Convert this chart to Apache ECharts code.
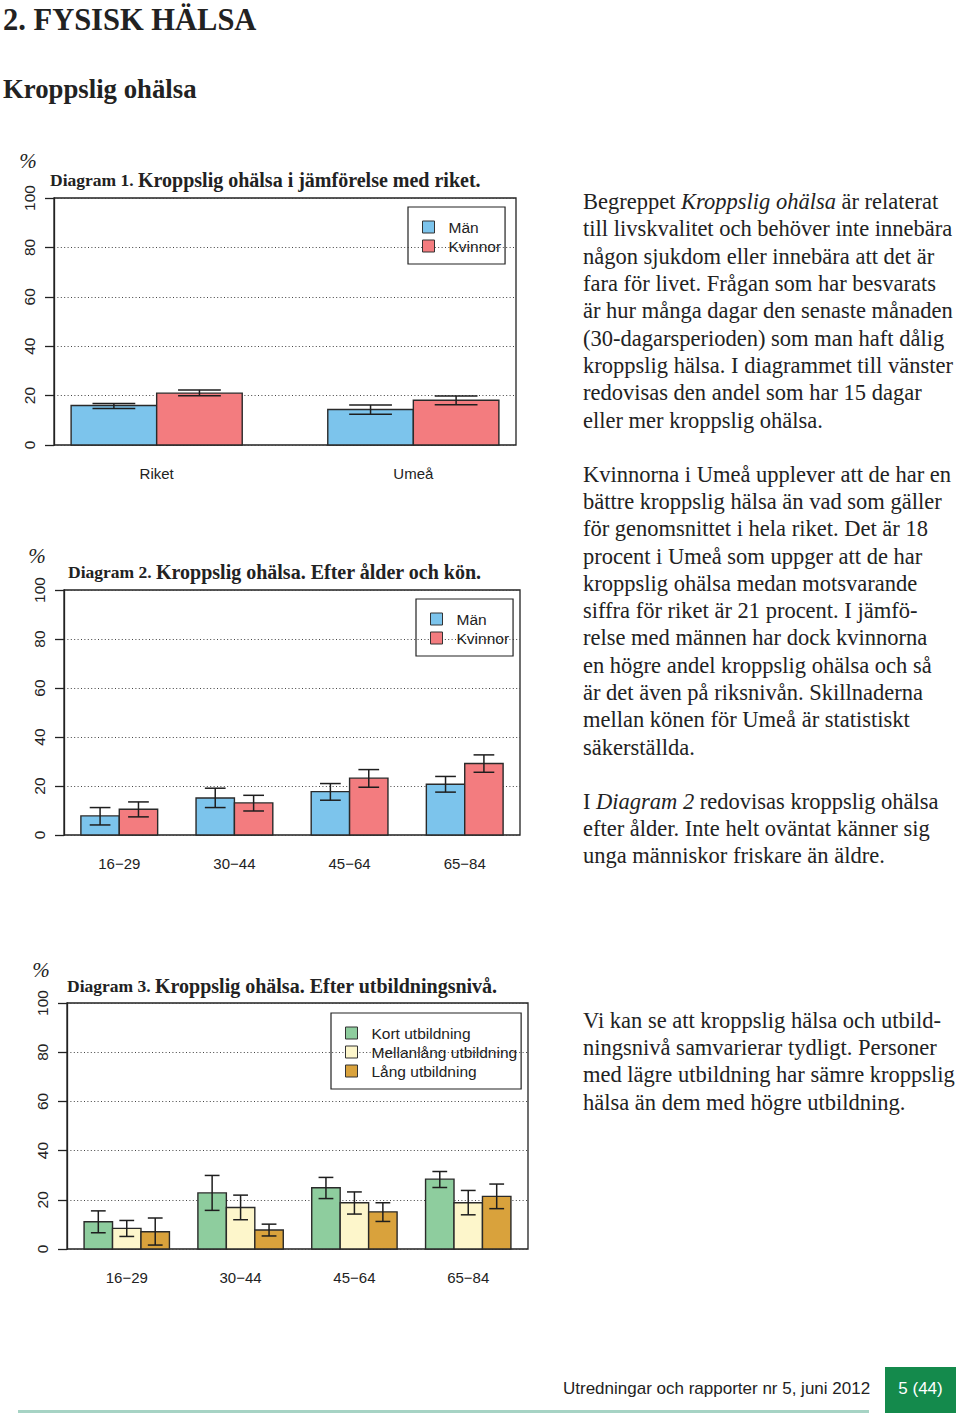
<!DOCTYPE html>
<html><head><meta charset="utf-8">
<script src="https://cdn.jsdelivr.net/npm/echarts@6/dist/echarts.min.js"></script>
<style>html,body{margin:0;padding:0;background:#fff}#c{width:960px;height:1415px}</style>
</head><body><div id="c"></div>
<script>
// ---------- Data ----------
// Diagram 1
const cat1 = ['Riket', 'Umeå'];
const d1Man = [16.0, 14.4];
const d1ManLo = [14.8, 12.5];
const d1ManHi = [16.8, 16.2];
const d1Kv = [21.0, 18.1];
const d1KvLo = [19.9, 16.3];
const d1KvHi = [22.3, 19.8];
// Diagram 2
const cat2 = ['16\u221229', '30\u221244', '45\u221264', '65\u221284'];
const d2Man = [7.8, 15.1, 17.7, 20.7];
const d2ManLo = [4.1, 11.2, 14.2, 17.5];
const d2ManHi = [11.2, 19.1, 21.0, 23.9];
const d2Kv = [10.5, 13.1, 23.2, 29.2];
const d2KvLo = [7.4, 9.8, 19.5, 25.6];
const d2KvHi = [13.5, 16.2, 26.7, 32.7];
// Diagram 3
const cat3 = ['16\u221229', '30\u221244', '45\u221264', '65\u221284'];
const d3Kort = [11.1, 22.8, 24.9, 28.4];
const d3KortLo = [6.6, 15.7, 20.5, 25.0];
const d3KortHi = [15.5, 29.9, 29.1, 31.5];
const d3Mellan = [8.4, 16.9, 18.8, 18.8];
const d3MellanLo = [5.1, 11.9, 14.2, 13.9];
const d3MellanHi = [11.6, 21.9, 23.2, 23.8];
const d3Lang = [7.0, 7.7, 15.1, 21.4];
const d3LangLo = [1.6, 5.3, 11.2, 16.4];
const d3LangHi = [12.6, 10.1, 18.8, 26.4];
const yTicks = [0, 20, 40, 60, 80, 100];

// ---------- Styles ----------
const SANS = 'Liberation Sans, Arial, sans-serif';
const SERIF = 'Liberation Serif, Times New Roman, serif';
const INK = '#222';
const colMan = '#7cc4ec', colKv = '#f37c7f';
const colKort = '#8ecd9e', colMellan = '#fdf6cb', colLang = '#d9a23c';

// R barplot(beside=TRUE, space=c(0,1)) layout helpers
function barCenter(g, s, k) { return g * (k + 1) + 1 + s + 0.5; }
function groupCenter(g, k) { return g * (k + 1) + 1 + k / 2; }
function xlim(n, k) { const lo = 1, hi = n * (k + 1), e = 0.04 * (hi - lo); return [lo - e, hi + e]; }

const grids = [
  {left: 54, top: 198, width: 462, height: 247},
  {left: 64, top: 590, width: 456, height: 245},
  {left: 67, top: 1003, width: 461, height: 246}
];
const charts = [
  {cats: cat1, k: 2, cap: 0.25, series: [
    {name: 'Män', color: colMan, v: d1Man, lo: d1ManLo, hi: d1ManHi},
    {name: 'Kvinnor', color: colKv, v: d1Kv, lo: d1KvLo, hi: d1KvHi}]},
  {cats: cat2, k: 2, cap: 0.27, series: [
    {name: 'Män', color: colMan, v: d2Man, lo: d2ManLo, hi: d2ManHi},
    {name: 'Kvinnor', color: colKv, v: d2Kv, lo: d2KvLo, hi: d2KvHi}]},
  {cats: cat3, k: 3, cap: 0.26, series: [
    {name: 'Kort utbildning', color: colKort, v: d3Kort, lo: d3KortLo, hi: d3KortHi},
    {name: 'Mellanlång utbildning', color: colMellan, v: d3Mellan, lo: d3MellanLo, hi: d3MellanHi},
    {name: 'Lång utbildning', color: colLang, v: d3Lang, lo: d3LangLo, hi: d3LangHi}]}
];

function makeRender(capHalf) {
  return function (params, api) {
    const x = api.value(0), v = api.value(1), lo = api.value(2), hi = api.value(3);
    const a = api.coord([x - 0.5, 0]);
    const b = api.coord([x + 0.5, v]);
    const pl = api.coord([x, lo]);
    const ph = api.coord([x, hi]);
    const cw = api.size([capHalf, 0])[0];
    const es = {stroke: '#1e1e1e', lineWidth: 1.5};
    return {type: 'group', children: [
      {type: 'rect', shape: {x: a[0], y: b[1], width: b[0] - a[0], height: a[1] - b[1]},
        style: {fill: api.visual('color'), stroke: '#2a2a2a', lineWidth: 1.4}},
      {type: 'line', shape: {x1: pl[0], y1: pl[1], x2: ph[0], y2: ph[1]}, style: es},
      {type: 'line', shape: {x1: pl[0] - cw, y1: pl[1], x2: pl[0] + cw, y2: pl[1]}, style: es},
      {type: 'line', shape: {x1: ph[0] - cw, y1: ph[1], x2: ph[0] + cw, y2: ph[1]}, style: es}
    ]};
  };
}

const xAxes = [], yAxes = [], series = [];
charts.forEach((c, i) => {
  const lim = xlim(c.cats.length, c.k);
  xAxes.push({
    type: 'value', gridIndex: i, min: lim[0], max: lim[1],
    axisLine: {show: false}, axisTick: {show: false}, splitLine: {show: false},
    axisLabel: {
      customValues: c.cats.map((_, g) => groupCenter(g, c.k)),
      formatter: val => c.cats[Math.round((val - 1 - c.k / 2) / (c.k + 1))] || '',
      margin: 21, fontFamily: SANS, fontSize: 15, color: INK
    }
  });
  yAxes.push({
    type: 'value', gridIndex: i, min: yTicks[0], max: yTicks[yTicks.length - 1], interval: 20,
    axisLine: {show: true, lineStyle: {color: INK, width: 1.3}},
    axisTick: {show: true, length: 9, lineStyle: {color: INK, width: 1.3}},
    axisLabel: {rotate: 90, margin: 17, fontFamily: SANS, fontSize: 15.5, color: INK},
    splitLine: {show: true, lineStyle: {color: '#444', width: 1, type: [1, 2.4]}}
  });
  c.series.forEach((s, si) => {
    series.push({
      type: 'custom', name: s.name, xAxisIndex: i, yAxisIndex: i,
      itemStyle: {color: s.color},
      renderItem: makeRender(c.cap),
      encode: {x: 0, y: [1, 2, 3]},
      data: s.v.map((v, g) => [barCenter(g, si, c.k), v, s.lo[g], s.hi[g]]),
      silent: true
    });
  });
});

function legendAt(left, top, names) {
  return {
    left: left, top: top, orient: 'vertical', data: names, icon: 'rect',
    itemWidth: 12, itemHeight: 12, itemGap: 3, padding: [12, 4, 10, 14],
    borderColor: INK, borderWidth: 1.2, selectedMode: false,
    itemStyle: {borderColor: '#333', borderWidth: 1},
    textStyle: {fontFamily: SANS, fontSize: 15.5, color: INK, lineHeight: 16, padding: [0, 0, 0, 9]}
  };
}

function txt(x, y, text, st) {
  return {type: 'text', x: x, y: y, silent: true, style: Object.assign({text: text, fill: INK}, st)};
}
const bodyStyle = {
  fontFamily: SERIF, fontSize: 22.5, lineHeight: 27.3, verticalAlign: 'top', align: 'left',
  rich: {i: {fontFamily: SERIF, fontSize: 22.5, lineHeight: 27.3, fontStyle: 'italic', fill: INK}}
};
function titleStyle() {
  return {
    fontFamily: SERIF, fontSize: 20, verticalAlign: 'middle', align: 'left', lineHeight: 22,
    rich: {
      s: {fontFamily: SERIF, fontWeight: 'bold', fontSize: 17.5, fill: INK, lineHeight: 22},
      b: {fontFamily: SERIF, fontWeight: 'bold', fontSize: 20, fill: INK, lineHeight: 22}
    }
  };
}
const pctStyle = {fontFamily: SERIF, fontStyle: 'italic', fontSize: 21, align: 'center', verticalAlign: 'middle'};

const graphics = [
  txt(3, 20, '2. FYSISK HÄLSA', {fontFamily: SERIF, fontWeight: 'bold', fontSize: 30.5, verticalAlign: 'middle'}),
  txt(3, 89, 'Kroppslig ohälsa', {fontFamily: SERIF, fontWeight: 'bold', fontSize: 26.75, verticalAlign: 'middle'}),
  txt(50, 180, '{s|Diagram 1. }{b|Kroppslig ohälsa i jämförelse med riket.}', titleStyle()),
  txt(68, 572, '{s|Diagram 2. }{b|Kroppslig ohälsa. Efter ålder och kön.}', titleStyle()),
  txt(67, 986, '{s|Diagram 3. }{b|Kroppslig ohälsa. Efter utbildningsnivå.}', titleStyle()),
  txt(28, 161, '%', pctStyle),
  txt(37, 556, '%', pctStyle),
  txt(41, 970, '%', pctStyle),
  txt(583, 188, [
    'Begreppet {i|Kroppslig ohälsa} är relaterat',
    'till livskvalitet och behöver inte innebära',
    'någon sjukdom eller innebära att det är',
    'fara för livet. Frågan som har besvarats',
    'är hur många dagar den senaste månaden',
    '(30-dagarsperioden) som man haft dålig',
    'kroppslig hälsa. I diagrammet till vänster',
    'redovisas den andel som har 15 dagar',
    'eller mer kroppslig ohälsa.'].join('\n'), bodyStyle),
  txt(583, 460.5, [
    'Kvinnorna i Umeå upplever att de har en',
    'bättre kroppslig hälsa än vad som gäller',
    'för genomsnittet i hela riket. Det är 18',
    'procent i Umeå som uppger att de har',
    'kroppslig ohälsa medan motsvarande',
    'siffra för riket är 21 procent. I jämfö-',
    'relse med männen har dock kvinnorna',
    'en högre andel kroppslig ohälsa och så',
    'är det även på riksnivån. Skillnaderna',
    'mellan könen för Umeå är statistiskt',
    'säkerställda.'].join('\n'), bodyStyle),
  txt(583, 787.5, [
    'I {i|Diagram 2} redovisas kroppslig ohälsa',
    'efter ålder. Inte helt oväntat känner sig',
    'unga människor friskare än äldre.'].join('\n'), bodyStyle),
  txt(583, 1006.5, [
    'Vi kan se att kroppslig hälsa och utbild-',
    'ningsnivå samvarierar tydligt. Personer',
    'med lägre utbildning har sämre kroppslig',
    'hälsa än dem med högre utbildning.'].join('\n'), bodyStyle),
  {type: 'rect', silent: true, shape: {x: 18, y: 1410, width: 851, height: 3}, style: {fill: '#a6d3c4'}},
  txt(563, 1388, 'Utredningar och rapporter nr 5, juni 2012', {fontFamily: SANS, fontSize: 17, verticalAlign: 'middle'}),
  {type: 'rect', silent: true, shape: {x: 885, y: 1367, width: 71, height: 46}, style: {fill: '#148a4c'}},
  txt(920.5, 1388, '5 (44)', {fontFamily: SANS, fontSize: 17, fill: '#fff', align: 'center', verticalAlign: 'middle'})
];

const chart = echarts.init(document.getElementById('c'), null, {renderer: 'svg', width: 960, height: 1415});
chart.setOption({
  animation: false,
  backgroundColor: '#fff',
  grid: grids.map(g => Object.assign({show: true, borderColor: INK, borderWidth: 1.3, containLabel: false}, g)),
  xAxis: xAxes,
  yAxis: yAxes,
  legend: [
    legendAt(408, 207, ['Män', 'Kvinnor']),
    legendAt(416, 599, ['Män', 'Kvinnor']),
    legendAt(331, 1013, ['Kort utbildning', 'Mellanlång utbildning', 'Lång utbildning'])
  ],
  series: series,
  graphic: graphics
});
</script></body></html>
